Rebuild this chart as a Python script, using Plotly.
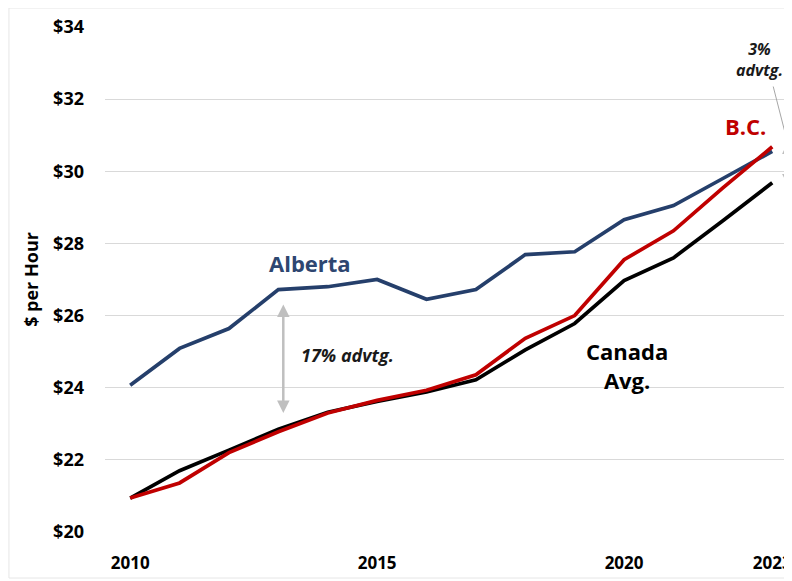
import plotly.graph_objects as go

years = list(range(2010, 2024))
alberta = [24.07, 25.09, 25.64, 26.72, 26.80, 27.00, 26.45, 26.72, 27.69, 27.77, 28.66, 29.05, 29.80, 30.55]
bc = [20.94, 21.36, 22.20, 22.78, 23.30, 23.65, 23.93, 24.36, 25.37, 26.00, 27.55, 28.35, 29.54, 30.68]
canada = [20.94, 21.70, 22.27, 22.85, 23.32, 23.62, 23.88, 24.22, 25.05, 25.78, 26.97, 27.60, 28.63, 29.68]
y_ticks = [20, 22, 24, 26, 28, 30, 32, 34]
y_tick_labels = ["$20", "$22", "$24", "$26", "$28", "$30", "$32", "$34"]
x_ticks = [2010, 2015, 2020, 2023]

FONT = "Open Sans"
fig = go.Figure()
fig.add_trace(go.Scatter(x=years, y=alberta, mode="lines", name="Alberta",
                         line=dict(color="#253f6b", width=3.7)))
fig.add_trace(go.Scatter(x=years, y=canada, mode="lines", name="Canada Avg.",
                         line=dict(color="#000000", width=3.7)))
fig.add_trace(go.Scatter(x=years, y=bc, mode="lines", name="B.C.",
                         line=dict(color="#c00000", width=3.7)))

annotations = [
    dict(x=2013.65, y=27.47, text="<b>Alberta</b>", showarrow=False,
         font=dict(family=FONT, size=22, color="#2e4670")),
    dict(x=2014.4, y=24.92, text="<b><i>17% advtg.</i></b>", showarrow=False,
         font=dict(family=FONT, size=18, color="#1a1a1a")),
    dict(x=2020.06, y=24.62, text="<b>Canada<br>Avg.</b>", showarrow=False,
         font=dict(family=FONT, size=22, color="#000000")),
    dict(x=2022.45, y=31.26, text="<b>B.C.</b>", showarrow=False,
         font=dict(family=FONT, size=22, color="#c00000")),
    dict(x=2022.75, y=33.1, text="<b><i>3%<br>advtg.</i></b>", showarrow=False,
         font=dict(family=FONT, size=16, color="#1a1a1a")),
    # 17% double arrow
    dict(x=2013.1, y=23.3, ax=2013.1, ay=26.35, xref="x", yref="y", axref="x", ayref="y",
         text="", showarrow=True, arrowhead=2, startarrowhead=2, arrowside="end+start",
         arrowwidth=2.5, arrowcolor="#bfbfbf", arrowsize=1),
    # 3% double arrow
    dict(x=2023.3, y=29.65, ax=2023.3, ay=30.8, xref="x", yref="y", axref="x", ayref="y",
         text="", showarrow=True, arrowhead=2, startarrowhead=2, arrowside="end+start",
         arrowwidth=2, arrowcolor="#bfbfbf", arrowsize=1),
]

shapes = [
    dict(type="line", xref="x", yref="y", x0=2023.02, y0=32.35, x1=2023.3, y1=30.85,
         line=dict(color="#a6a6a6", width=1)),
    dict(type="rect", xref="paper", yref="paper", x0=-0.1398, y0=-0.0911, x1=1.02, y1=1.0376,
         line=dict(color="#e6e6e6", width=1), layer="below"),
]

fig.update_layout(
    width=784, height=573,
    margin=dict(l=97, r=0, t=19, b=49),
    paper_bgcolor="white", plot_bgcolor="white",
    showlegend=False,
    annotations=annotations,
    shapes=shapes,
    font=dict(family=FONT, color="#000000"),
    xaxis=dict(range=[2009.49, 2023.4], tickvals=x_ticks,
               ticktext=[f"<b>{v}</b>" for v in x_ticks],
               tickfont=dict(family=FONT, size=17, color="#000000"),
               showgrid=False, zeroline=False, showline=False, ticks="",
               ticklabelstandoff=19, automargin=False),
    yaxis=dict(range=[20, 34], tickvals=y_ticks, ticktext=[f"<b>{t}</b>" for t in y_tick_labels],
               tickfont=dict(family=FONT, size=18, color="#000000"),
               showgrid=True, gridcolor="#d9d9d9", gridwidth=1, zeroline=False,
               showline=False, ticks="", ticklabelstandoff=20, automargin=False,
               title=dict(text="<b>$ per Hour</b>", font=dict(family=FONT, size=18, color="#000000"),
                          standoff=9)),
)
fig.write_html("out.html")
